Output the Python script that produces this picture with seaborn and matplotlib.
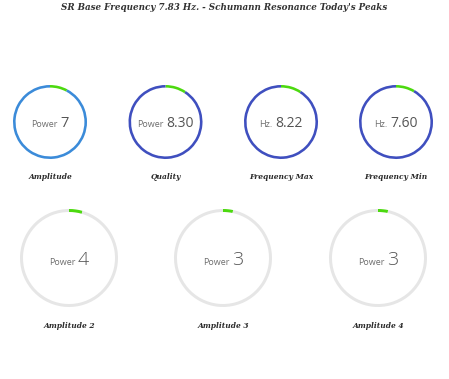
import matplotlib
matplotlib.use("Agg")
import matplotlib.pyplot as plt
import seaborn as sns

sns.set_theme(style="white")
plt.rcParams["font.family"] = ["Open Sans", "DejaVu Sans"]

# gauge data
names = ["Amplitude", "Quality", "Frequency Max", "Frequency Min",
         "Amplitude 2", "Amplitude 3", "Amplitude 4"]
units = ["Power", "Power", "Hz.", "Hz.", "Power", "Power", "Power"]
values = [7, 8.30, 8.22, 7.60, 4, 3, 3]
value_text = ["7", "8.30", "8.22", "7.60", "4", "3", "3"]
gauge_max = 90

# layout in pixels (y measured from the top)
cx = [50, 165.5, 281, 396, 69, 223, 378]
cy = [122, 122, 122, 122, 258, 258, 258]
rad = [37, 37, 37, 37, 49, 49, 49]
ring_w = [2.6, 2.6, 2.6, 2.6, 3.0, 3.0, 3.0]
ring_col = ["#3b8bd9", "#3f4fbf", "#3f4fbf", "#3f4fbf", "#e6e6e6", "#e6e6e6", "#e6e6e6"]
val_size = [10.5, 10, 10, 10, 14, 14, 14]
val_weight = ["normal"] * 4 + ["light"] * 3
green = "#4cd90f"

W, H = 449, 379
fig = plt.figure(figsize=(W / 100, H / 100), dpi=100)
ax = fig.add_axes([0, 0, 1, 1])
rr = fig.canvas.get_renderer()

for i in range(len(names)):
    x, y = cx[i], H - cy[i]
    r = rad[i]
    ax.pie([values[i], gauge_max - values[i]], colors=[green, ring_col[i]],
           startangle=90, counterclock=False, radius=r, center=(x, y),
           wedgeprops=dict(width=ring_w[i], linewidth=0))
    # unit label + value, centred as a pair
    t_unit = ax.annotate(units[i], (x, y), xytext=(0, 0), textcoords="offset points",
                         ha="right", va="baseline", fontsize=6.5, color="#6e6e6e")
    t_val = ax.annotate(value_text[i], (x, y), xytext=(0, 0), textcoords="offset points",
                        ha="left", va="baseline", fontsize=val_size[i], color="#555555",
                        fontweight=val_weight[i])
    wu = t_unit.get_window_extent(rr).width
    wv = t_val.get_window_extent(rr).width
    gap = 2.5
    total = wu + gap + wv
    base = -val_size[i] * 0.36
    t_unit.set_position(((-total / 2 + wu) * 0.72, base))
    t_val.set_position(((-total / 2 + wu + gap) * 0.72, base))
    ly = H - (cy[i] + (55 if i < 4 else 68))
    ax.text(x, ly, names[i], ha="center", va="center", fontsize=5.4,
            fontweight="bold", fontstyle="italic", color="#2b2b2b",
            family=["DejaVu Serif"])

ax.text(W / 2, H - 7, "SR Base Frequency 7.83 Hz. - Schumann Resonance Today's Peaks",
        ha="center", va="center", fontsize=6.3, fontweight="bold", fontstyle="italic",
        color="#333333", family=["DejaVu Serif"])

ax.set_xlim(0, W)
ax.set_ylim(0, H)
ax.set_aspect("auto")
ax.axis("off")
fig.savefig("out.png", dpi=100)
